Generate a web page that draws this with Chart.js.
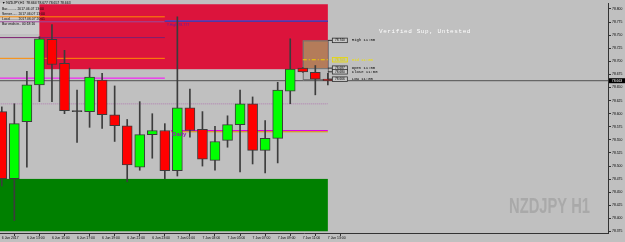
<!DOCTYPE html>
<html><head><meta charset="utf-8">
<script src="https://cdn.jsdelivr.net/npm/chart.js@4.4.1/dist/chart.umd.min.js"></script>
<style>html,body{margin:0;padding:0;background:#c0c0c0;overflow:hidden}canvas{display:block}</style>
</head><body>
<canvas id="c" width="625" height="242" style="width:625px;height:242px"></canvas>
<script>
// ---- data (NZDJPY H1, 6 Jun 11:00 .. 7 Jun 13:00) ----
const candleIndex = [0,1,2,3,4,5,6,7,8,9,10,11,12,13,14,15,16,17,18,19,20,21,22,23,24,25,26];
const opens  = [78.604,78.476,78.585,78.655,78.742,78.696,78.604,78.604,78.664,78.598,78.577,78.498,78.560,78.568,78.491,78.611,78.570,78.511,78.549,78.579,78.619,78.530,78.553,78.643,78.687,78.679,78.666];
const highs  = [78.613,78.619,78.681,78.747,78.770,78.721,78.645,78.687,78.677,78.653,78.589,78.623,78.600,78.581,78.785,78.647,78.604,78.576,78.596,78.645,78.632,78.587,78.660,78.743,78.688,78.692,78.677];
const lows   = [78.462,78.396,78.498,78.623,78.623,78.600,78.545,78.574,78.572,78.547,78.470,78.492,78.515,78.476,78.481,78.555,78.500,78.492,78.536,78.489,78.504,78.487,78.506,78.619,78.679,78.636,78.655];
const closes = [78.476,78.581,78.655,78.743,78.694,78.606,78.604,78.670,78.598,78.577,78.502,78.560,78.568,78.491,78.611,78.568,78.513,78.547,78.579,78.619,78.530,78.553,78.645,78.685,78.680,78.666,78.663];

const xTickIndex  = [0,2,4,6,8,10,12,14,16,18,20,22,24,26];
const xTickLabels = ['6 Jun 2017','6 Jun 13:00','6 Jun 15:00','6 Jun 17:00','6 Jun 19:00','6 Jun 21:00','6 Jun 23:00','7 Jun 01:00','7 Jun 03:00','7 Jun 05:00','7 Jun 07:00','7 Jun 09:00','7 Jun 11:00','7 Jun 13:00'];
const yTicks = [78.375,78.400,78.425,78.450,78.475,78.500,78.525,78.550,78.575,78.600,78.625,78.650,78.675,78.700,78.725,78.750,78.775,78.800];

const supplyZone = [78.809, 78.685];      // top, bottom
const demandZone = [78.4755, 78.3755];
const leftLevels = [78.785, 78.7755, 78.7453, 78.7057, 78.6679];
const yesterdayHigh = 78.777;
const dailyLevel = [78.5679, 78.5655];
const dottedLevel = 78.6188;
const bidPrice = 78.663;
const rangeValues = [78.740, 78.703, 78.687, 78.680, 78.666];
const rangeNames  = ['High 11:00','Mid 11:00','Open 11:00','Close 11:00','Low 11:00'];
const zoneText = 'Verified Sup, Untested';
const infoLines = ['Bar.......... 2017.06.07 13:00','Server...... 2017.06.07 13:00','Local........ 2017.06.07 20:01','Bar ends in.. 00:18:16'];
const titleText = '\u25BC NZDJPY,H1  78.664 78.677 78.657 78.663';

// ---- drawing ----
const F = 'Liberation Sans, Arial, sans-serif';
const dark = '#3c3c3c';

function hline(c, p, i0, i1, color, w, dash){
  const ctx = c.ctx, xs = c.scales.x, ys = c.scales.y;
  const y = ys.getPixelForValue(p);
  const x0 = i0 === null ? c.chartArea.left : xs.getPixelForValue(i0);
  const x1 = i1 === null ? c.chartArea.right : xs.getPixelForValue(i1);
  ctx.beginPath(); ctx.strokeStyle = color; ctx.lineWidth = w; ctx.setLineDash(dash || []);
  ctx.moveTo(x0, y); ctx.lineTo(x1, y); ctx.stroke(); ctx.setLineDash([]);
}
function txt(ctx, s, x, y, font, color, align, maxW){
  ctx.font = font; ctx.fillStyle = color; ctx.textAlign = align || 'left'; ctx.textBaseline = 'middle';
  if (maxW) ctx.fillText(s, x, y, maxW); else ctx.fillText(s, x, y);
}

const overlay = {
  id: 'overlay',
  beforeDraw(c){
    const ctx = c.ctx; ctx.save();
    ctx.fillStyle = '#c0c0c0'; ctx.fillRect(0, 0, c.width, c.height);
    ctx.restore();
  },
  beforeDatasetsDraw(c){
    const ctx = c.ctx, xs = c.scales.x, ys = c.scales.y, a = c.chartArea;
    const X = v => xs.getPixelForValue(v), Y = v => ys.getPixelForValue(v);
    ctx.save();
    ctx.beginPath(); ctx.rect(a.left, a.top, a.right - a.left, a.bottom - a.top); ctx.clip();
    // zones
    ctx.fillStyle = '#dc143c';
    ctx.fillRect(X(3), Y(supplyZone[0]), X(26) - X(3), Y(supplyZone[1]) - Y(supplyZone[0]));
    ctx.fillStyle = '#008000';
    ctx.fillRect(X(-1), Y(demandZone[0]), X(26) - X(-1), Y(demandZone[1]) - Y(demandZone[0]));
    // info panel
    ctx.fillStyle = '#cbcbcb'; ctx.fillRect(0, 0, 39, 34);
    ctx.fillStyle = '#a8a8a8'; ctx.fillRect(0, 0, a.right, 1);
    // left levels
    const lc = ['#ff8c00', '#9b4a9b', '#7d1f70', '#ff8c00', '#ff00ff'];
    leftLevels.forEach((p, k) => hline(c, p, -1, 13, lc[k], 1));
    hline(c, yesterdayHigh - 0.0008, 13, 26, '#303030', 1);
    hline(c, yesterdayHigh, 13, 26, '#5a3cc8', 1.5);
    hline(c, dottedLevel, -1, 26, '#b27ab2', 1, [1, 1]);
    hline(c, dailyLevel[0], 13.5, 26, '#e000e0', 1);
    hline(c, dailyLevel[1], 13.5, 26, '#e08a00', 1);
    hline(c, bidPrice, -1, null, '#505050', 1);
    // range boxes
    ctx.fillStyle = '#b47c5a';
    ctx.fillRect(X(24), Y(rangeValues[0]), X(26) - X(24), Y(rangeValues[2]) - Y(rangeValues[0]));
    ctx.strokeStyle = '#707070'; ctx.lineWidth = 1;
    ctx.strokeRect(X(24) + 0.5, Y(rangeValues[0]) + 0.5, X(26) - X(24), Y(rangeValues[2]) - Y(rangeValues[0]));
    ctx.fillStyle = '#b9b9b9';
    ctx.fillRect(X(24), Y(rangeValues[2]), X(26) - X(24), Y(rangeValues[4]) - Y(rangeValues[2]));
    ctx.strokeRect(X(24) + 0.5, Y(rangeValues[2]) + 0.5, X(26) - X(24), Y(rangeValues[4]) - Y(rangeValues[2]));
    hline(c, rangeValues[1], 24, 26.2, '#f0d000', 1, [4, 2, 1, 2]);
    ctx.restore();
  },
  afterDatasetsDraw(c){
    const ctx = c.ctx, xs = c.scales.x, ys = c.scales.y, a = c.chartArea;
    const X = v => xs.getPixelForValue(v), Y = v => ys.getPixelForValue(v);
    ctx.save();
    // info panel text
    txt(ctx, titleText, 2, 3.5, '3.4px ' + F, '#000', 'left');
    infoLines.forEach((s, k) => txt(ctx, s, 2, 9 + k * 5, '3.4px ' + F, '#000', 'left'));
    // Y.High label
    txt(ctx, 'Y.High ' + yesterdayHigh.toFixed(3), X(13) + 2, Y(yesterdayHigh) + 4, '3.6px ' + F, '#6a1b9a', 'left');
    txt(ctx, 'Daily', X(13.5) + 1, Y(dailyLevel[0]) + 4, 'bold 6px ' + F, '#8e24aa', 'left', 20);
    // range labels
    const bx = X(26) + 4.5;
    rangeValues.forEach((p, k) => {
      const y = Y(p);
      const isMid = k === 1;
      if (!isMid) hline(c, p, 26, 26 + 4.5 / 12.54, '#303030', 1);
      ctx.fillStyle = isMid ? '#c8c8a0' : '#c8c8c8';
      ctx.fillRect(bx, y - 2.25, 15, 4.5);
      ctx.strokeStyle = isMid ? '#e8d800' : '#303030'; ctx.lineWidth = 0.8;
      ctx.strokeRect(bx, y - 2.25, 15, 4.5);
      txt(ctx, p.toFixed(3), bx + 7.5, y, '3.2px ' + F, isMid ? '#d8c800' : '#000', 'center');
      txt(ctx, rangeNames[k], bx + 19.5, y, '3.9px Liberation Mono, monospace', isMid ? '#f0e000' : '#000', 'left');
    });
    // zone label
    if ('letterSpacing' in ctx) ctx.letterSpacing = '0.6px';
    txt(ctx, zoneText, 379, 31, '6px Liberation Mono, monospace', '#ffffff', 'left', 92);
    if ('letterSpacing' in ctx) ctx.letterSpacing = '0px';
    // watermark
    ctx.font = 'bold 22px "Liberation Sans Narrow", "Liberation Sans", sans-serif';
    ctx.fillStyle = '#a9a9a9'; ctx.textAlign = 'left'; ctx.textBaseline = 'alphabetic';
    ctx.fillText('NZDJPY H1', 509, 213, 81);
    // bid box
    const yb = Y(bidPrice);
    ctx.fillStyle = '#000'; ctx.fillRect(a.right + 1, yb - 2.5, 16, 5);
    txt(ctx, bidPrice.toFixed(3), a.right + 9, yb, '3.4px ' + F, '#fff', 'center');
    ctx.restore();
  }
};

const bodyColors = candleIndex.map(i => closes[i] > opens[i] ? '#00ff00' : (closes[i] < opens[i] ? '#ff0000' : dark));

new Chart(document.getElementById('c'), {
  type: 'bar',
  data: {
    datasets: [
      { label: 'body', data: candleIndex.map(i => ({x: i, y: [opens[i], closes[i]]})),
        backgroundColor: bodyColors, borderColor: dark, borderWidth: 1, borderSkipped: false,
        barThickness: 10, grouped: false, order: 0, minBarLength: 1 },
      { label: 'wick', data: candleIndex.map(i => ({x: i, y: [lows[i], highs[i]]})),
        backgroundColor: dark, borderWidth: 0, barThickness: 1, grouped: false, order: 1 }
    ]
  },
  options: {
    animation: false, responsive: false, maintainAspectRatio: false, events: [],
    layout: { padding: 0 },
    plugins: { legend: { display: false }, tooltip: { enabled: false } },
    scales: {
      x: {
        type: 'linear', min: -0.1435, max: 48.34, offset: false,
        afterBuildTicks: s => { s.ticks = xTickIndex.map(v => ({value: v})); },
        afterFit: s => { s.height = 9; },
        ticks: { callback: (v) => xTickLabels[xTickIndex.indexOf(v)], align: 'start', autoSkip: false,
                 maxRotation: 0, minRotation: 0, padding: 0, color: '#000', font: { size: 3.4, family: F } },
        grid: { drawOnChartArea: false, drawTicks: true, tickLength: 3, color: '#333' },
        border: { display: true, color: '#333', width: 1 }
      },
      y: {
        type: 'linear', position: 'right', min: 78.3722, max: 78.8113,
        afterBuildTicks: s => { s.ticks = yTicks.map(v => ({value: v})); },
        afterFit: s => { s.width = 17; },
        ticks: { callback: v => Number(v).toFixed(3), autoSkip: false, padding: 1, color: '#000', font: { size: 3.4, family: F } },
        grid: { drawOnChartArea: false, drawTicks: true, tickLength: 3, color: '#333' },
        border: { display: true, color: '#333', width: 1 }
      }
    }
  },
  plugins: [overlay]
});
</script>
</body></html>
